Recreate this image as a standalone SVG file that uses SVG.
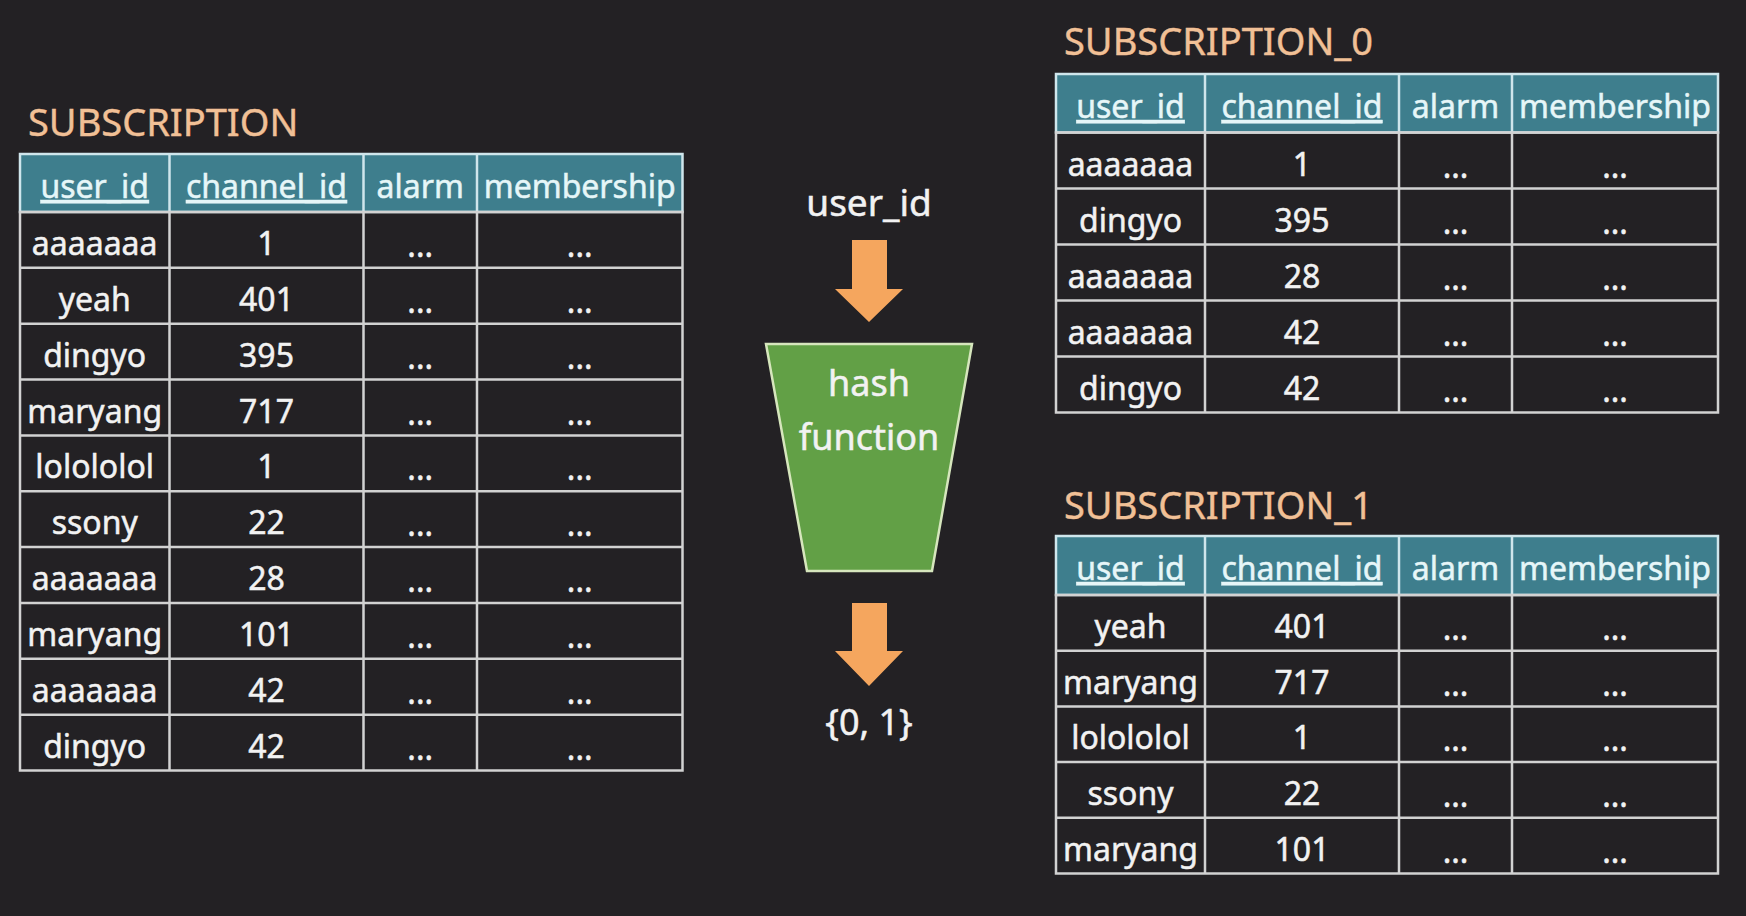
<svg xmlns="http://www.w3.org/2000/svg" width="1746" height="916" viewBox="0 0 1746 916">
<style>
text{font-family:"Noto Sans","Liberation Sans",sans-serif;}
.title{font-size:38px;fill:#f1c096;stroke:#f1c096;stroke-width:0.4;}
.hd{font-size:32px;fill:#e6f6f8;text-anchor:middle;stroke:#e6f6f8;stroke-width:0.5;}
.ul{text-decoration:underline;}
.cell{font-size:32px;fill:#f2f2f2;text-anchor:middle;stroke:#f2f2f2;stroke-width:0.5;}
.dots{font-size:32px;fill:#f2f2f2;text-anchor:middle;stroke:#f2f2f2;stroke-width:0.5;}
.hdr{fill:#3e7e8d;stroke:#cfe6ec;stroke-width:2.5;}
.grid{stroke:#d2d2d2;stroke-width:2.5;fill:none;}
.hline{stroke:#cfe6ec;stroke-width:2.5;}
.big{font-size:37px;fill:#f2f2f2;text-anchor:middle;stroke:#f2f2f2;stroke-width:0.5;}
.arrow{fill:#f5a65e;}
</style>
<rect x="0" y="0" width="1746" height="916" fill="#232124"/>

<!-- Left table -->
<g id="table-subscription">
<text class="title" x="28" y="135.5">SUBSCRIPTION</text>
<rect class="hdr" x="20" y="154" width="662.5" height="58"/>
<line class="hline" x1="169.5" y1="154" x2="169.5" y2="212"/>
<line class="hline" x1="363.5" y1="154" x2="363.5" y2="212"/>
<line class="hline" x1="477" y1="154" x2="477" y2="212"/>
<text class="hd ul" x="94.7" y="198">user_id</text>
<text class="hd ul" x="266.5" y="198">channel_id</text>
<text class="hd" x="420.2" y="198">alarm</text>
<text class="hd" x="579.7" y="198">membership</text>
<rect class="grid" x="20" y="212" width="662.5" height="558.5"/>
<path class="grid" d="M169.5 212V770.5M363.5 212V770.5M477 212V770.5M20 267.85H682.5M20 323.7H682.5M20 379.55H682.5M20 435.4H682.5M20 491.25H682.5M20 547.1H682.5M20 602.95H682.5M20 658.8H682.5M20 714.65H682.5"/>
<g>
<text class="cell" x="94.7" y="255">aaaaaaa</text><text class="cell" x="266.5" y="255">1</text>
<text class="cell" x="94.7" y="310.9">yeah</text><text class="cell" x="266.5" y="310.9">401</text>
<text class="cell" x="94.7" y="366.7">dingyo</text><text class="cell" x="266.5" y="366.7">395</text>
<text class="cell" x="94.7" y="422.6">maryang</text><text class="cell" x="266.5" y="422.6">717</text>
<text class="cell" x="94.7" y="478.4">lolololol</text><text class="cell" x="266.5" y="478.4">1</text>
<text class="cell" x="94.7" y="534.3">ssony</text><text class="cell" x="266.5" y="534.3">22</text>
<text class="cell" x="94.7" y="590.1">aaaaaaa</text><text class="cell" x="266.5" y="590.1">28</text>
<text class="cell" x="94.7" y="646">maryang</text><text class="cell" x="266.5" y="646">101</text>
<text class="cell" x="94.7" y="701.8">aaaaaaa</text><text class="cell" x="266.5" y="701.8">42</text>
<text class="cell" x="94.7" y="757.7">dingyo</text><text class="cell" x="266.5" y="757.7">42</text>
</g>
<g>
<text class="dots" x="420.2" y="257">...</text><text class="dots" x="579.7" y="257">...</text>
<text class="dots" x="420.2" y="312.9">...</text><text class="dots" x="579.7" y="312.9">...</text>
<text class="dots" x="420.2" y="368.7">...</text><text class="dots" x="579.7" y="368.7">...</text>
<text class="dots" x="420.2" y="424.6">...</text><text class="dots" x="579.7" y="424.6">...</text>
<text class="dots" x="420.2" y="480.4">...</text><text class="dots" x="579.7" y="480.4">...</text>
<text class="dots" x="420.2" y="536.3">...</text><text class="dots" x="579.7" y="536.3">...</text>
<text class="dots" x="420.2" y="592.1">...</text><text class="dots" x="579.7" y="592.1">...</text>
<text class="dots" x="420.2" y="648">...</text><text class="dots" x="579.7" y="648">...</text>
<text class="dots" x="420.2" y="703.8">...</text><text class="dots" x="579.7" y="703.8">...</text>
<text class="dots" x="420.2" y="759.7">...</text><text class="dots" x="579.7" y="759.7">...</text>
</g>
</g>

<!-- Hash function -->
<g id="label-userid">
<text class="big" x="869" y="216">user_id</text>
</g>
<g id="hash-function">
<polygon points="766,344 972,344 932,571 807,571" fill="#62a046" stroke="#d6e6bd" stroke-width="2.5"/>
<text class="big" x="869" y="396" style="font-size:36px">hash</text>
<text class="big" x="869" y="450" style="font-size:36px">function</text>
</g>
<g id="label-output">
<text class="big" x="869" y="735" style="font-size:36px">{0, 1}</text>
</g>
<g id="connectors">
<polygon class="arrow" points="852,240 887,240 887,289 903,289 869,322 835,289 852,289"/>
<polygon class="arrow" points="852,603 887,603 887,651 903,651 869,686 835,651 852,651"/>
</g>

<!-- SUBSCRIPTION_0 -->
<g id="table-subscription-0">
<text class="title" x="1064" y="55">SUBSCRIPTION_0</text>
<rect class="hdr" x="1056" y="74" width="662" height="58.5"/>
<line class="hline" x1="1205" y1="74" x2="1205" y2="132.5"/>
<line class="hline" x1="1399" y1="74" x2="1399" y2="132.5"/>
<line class="hline" x1="1512" y1="74" x2="1512" y2="132.5"/>
<text class="hd ul" x="1130.5" y="118">user_id</text>
<text class="hd ul" x="1302" y="118">channel_id</text>
<text class="hd" x="1455.5" y="118">alarm</text>
<text class="hd" x="1615" y="118">membership</text>
<rect class="grid" x="1056" y="132.5" width="662" height="280"/>
<path class="grid" d="M1205 132.5V412.5M1399 132.5V412.5M1512 132.5V412.5M1056 188.5H1718M1056 244.5H1718M1056 300.5H1718M1056 356.5H1718"/>
<text class="cell" x="1130.5" y="175.5">aaaaaaa</text><text class="cell" x="1302" y="175.5">1</text>
<text class="cell" x="1130.5" y="231.5">dingyo</text><text class="cell" x="1302" y="231.5">395</text>
<text class="cell" x="1130.5" y="287.5">aaaaaaa</text><text class="cell" x="1302" y="287.5">28</text>
<text class="cell" x="1130.5" y="343.5">aaaaaaa</text><text class="cell" x="1302" y="343.5">42</text>
<text class="cell" x="1130.5" y="399.5">dingyo</text><text class="cell" x="1302" y="399.5">42</text>
<text class="dots" x="1455.5" y="177.5">...</text><text class="dots" x="1615" y="177.5">...</text>
<text class="dots" x="1455.5" y="233.5">...</text><text class="dots" x="1615" y="233.5">...</text>
<text class="dots" x="1455.5" y="289.5">...</text><text class="dots" x="1615" y="289.5">...</text>
<text class="dots" x="1455.5" y="345.5">...</text><text class="dots" x="1615" y="345.5">...</text>
<text class="dots" x="1455.5" y="401.5">...</text><text class="dots" x="1615" y="401.5">...</text>
</g>

<!-- SUBSCRIPTION_1 -->
<g id="table-subscription-1">
<text class="title" x="1064" y="519">SUBSCRIPTION_1</text>
<rect class="hdr" x="1056" y="536" width="662" height="59"/>
<line class="hline" x1="1205" y1="536" x2="1205" y2="595"/>
<line class="hline" x1="1399" y1="536" x2="1399" y2="595"/>
<line class="hline" x1="1512" y1="536" x2="1512" y2="595"/>
<text class="hd ul" x="1130.5" y="580">user_id</text>
<text class="hd ul" x="1302" y="580">channel_id</text>
<text class="hd" x="1455.5" y="580">alarm</text>
<text class="hd" x="1615" y="580">membership</text>
<rect class="grid" x="1056" y="595" width="662" height="278.5"/>
<path class="grid" d="M1205 595V873.5M1399 595V873.5M1512 595V873.5M1056 650.7H1718M1056 706.4H1718M1056 762.1H1718M1056 817.8H1718"/>
<text class="cell" x="1130.5" y="638">yeah</text><text class="cell" x="1302" y="638">401</text>
<text class="cell" x="1130.5" y="693.7">maryang</text><text class="cell" x="1302" y="693.7">717</text>
<text class="cell" x="1130.5" y="749.4">lolololol</text><text class="cell" x="1302" y="749.4">1</text>
<text class="cell" x="1130.5" y="805.1">ssony</text><text class="cell" x="1302" y="805.1">22</text>
<text class="cell" x="1130.5" y="860.8">maryang</text><text class="cell" x="1302" y="860.8">101</text>
<text class="dots" x="1455.5" y="640">...</text><text class="dots" x="1615" y="640">...</text>
<text class="dots" x="1455.5" y="695.7">...</text><text class="dots" x="1615" y="695.7">...</text>
<text class="dots" x="1455.5" y="751.4">...</text><text class="dots" x="1615" y="751.4">...</text>
<text class="dots" x="1455.5" y="807.1">...</text><text class="dots" x="1615" y="807.1">...</text>
<text class="dots" x="1455.5" y="862.8">...</text><text class="dots" x="1615" y="862.8">...</text>
</g>
</svg>
